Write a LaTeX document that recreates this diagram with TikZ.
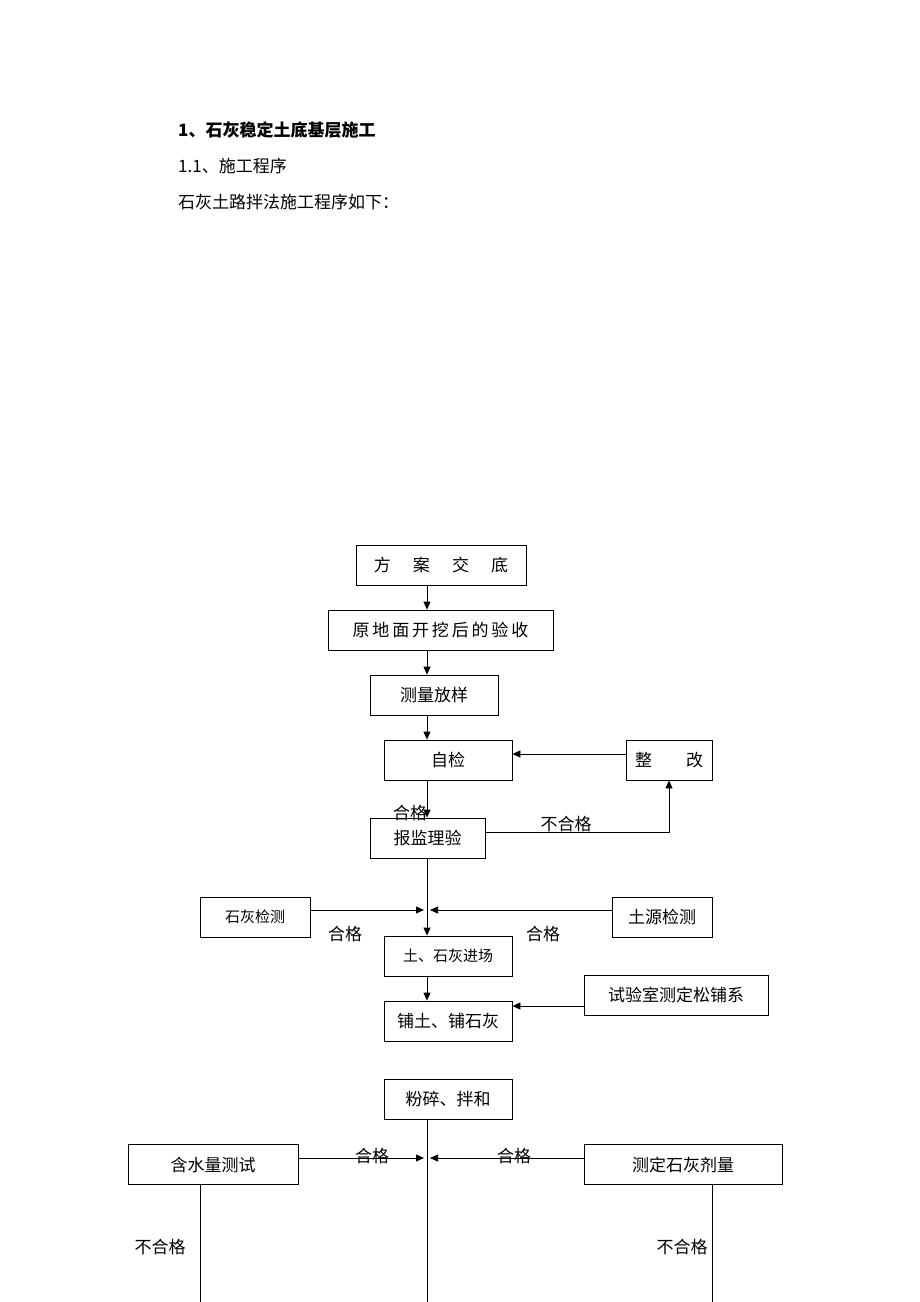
\documentclass[tikz,border=0pt]{standalone}
\usepackage{fontspec}
\setmainfont{Noto Sans CJK SC}
\usetikzlibrary{arrows.meta}
\begin{document}
\begin{tikzpicture}[x=1pt,y=-1pt,
  bx/.style={draw,line width=0.8pt,minimum height=40pt,inner sep=0pt,font=\fontsize{17}{17}\selectfont},
  ar/.style={line width=0.8pt,-{Triangle[length=8pt,width=7pt]}},
  ln/.style={line width=0.8pt},
  lb/.style={font=\fontsize{17}{17}\selectfont,inner sep=0pt}]
\useasboundingbox (0,0) rectangle (920,1302);
\node[anchor=west,lb,font=\fontsize{17}{17}\selectfont\bfseries] (h1) at (178,130) {1、石灰稳定土底基层施工};
\node[anchor=west,lb] (h2) at (178,166) {1.1、施工程序};
\node[anchor=west,lb] (h3) at (178,202) {石灰土路拌法施工程序如下：};
\node[bx,minimum width=170pt] (a) at (441,565) {方\hspace{1.3em}案\hspace{1.3em}交\hspace{1.3em}底};
\node[bx,minimum width=225pt] (b) at (440.5,630) {原\,地\,面\,开\,挖\,后\,的\,验\,收};
\node[bx,minimum width=128pt] (c) at (434,695) {测量放样};
\node[bx,minimum width=128pt] (d) at (448,760) {自检};
\node[bx,minimum width=86pt] (e) at (669,760) {整\hspace{2em}改};
\node[bx,minimum width=115pt] (f) at (427.5,838) {报监理验};
\node[bx,minimum width=110pt,font=\fontsize{15}{15}\selectfont] (g) at (255,917) {石灰检测};
\node[bx,minimum width=100pt] (h) at (662,917) {土源检测};
\node[bx,minimum width=128pt,font=\fontsize{15}{15}\selectfont] (i) at (448,956) {土、石灰进场};
\node[bx,minimum width=184pt] (j) at (676,995) {试验室测定松铺系};
\node[bx,minimum width=128pt] (k) at (448,1021) {铺土、铺石灰};
\node[bx,minimum width=128pt] (l) at (448,1099.5) {粉碎、拌和};
\node[bx,minimum width=170pt] (m) at (213,1164.5) {含水量测试};
\node[bx,minimum width=198pt] (n) at (683,1164.5) {测定石灰剂量};
\coordinate (jl) at (424,910); \coordinate (jr) at (430,910);
\coordinate (kl) at (424,1158); \coordinate (kr) at (430,1158);
\coordinate (fr) at (669,832); \coordinate (endc) at (427,1302);
\coordinate (endm) at (200,1302); \coordinate (endn) at (712,1302);
\draw[ar] (a.south -| 427,0) -- (b.north -| 427,0);
\draw[ar] (b.south -| 427,0) -- (c.north -| 427,0);
\draw[ar] (c.south -| 427,0) -- (d.north -| 427,0);
\draw[ar] (d.south -| 427,0) -- (f.north -| 427,0);
\draw[ar] (e.west |- 0,754) -- (d.east |- 0,754);
\draw[ar] (f.east |- fr) -- (fr) -- (e.south);
\draw[ar] (f.south -| 427,0) -- (i.north -| 427,0);
\draw[ar] (g.east |- jl) -- (jl);
\draw[ar] (h.west |- jr) -- (jr);
\draw[ar] (i.south -| 427,0) -- (k.north -| 427,0);
\draw[ar] (j.west |- 0,1006) -- (k.east |- 0,1006);
\draw[ln] (l.south -| 427,0) -- (endc);
\draw[ar] (m.east |- kl) -- (kl);
\draw[ar] (n.west |- kr) -- (kr);
\draw[ln] (m.south -| endm) -- (endm);
\draw[ln] (n.south -| endn) -- (endn);
\node[lb] (t1) at (410,813) {合格};
\node[lb] (t2) at (566,824) {不合格};
\node[lb] (t3) at (345,934) {合格};
\node[lb] (t4) at (543,934) {合格};
\node[lb] (t5) at (372,1156) {合格};
\node[lb] (t6) at (514,1156) {合格};
\node[lb] (t7) at (160,1247) {不合格};
\node[lb] (t8) at (682,1247) {不合格};
\end{tikzpicture}
\end{document}
